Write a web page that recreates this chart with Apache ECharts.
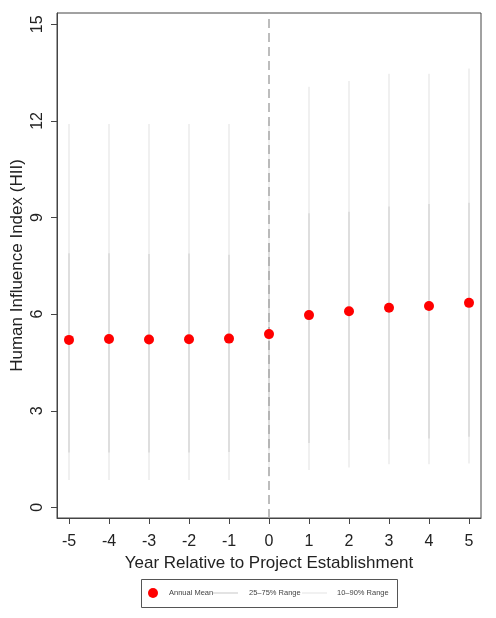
<!DOCTYPE html>
<html>
<head>
<meta charset="utf-8">
<script src="https://cdn.jsdelivr.net/npm/echarts@6/dist/echarts.min.js"></script>
<style>html,body{margin:0;padding:0;background:#fff;}#c{width:496px;height:618px;}</style>
</head>
<body>
<div id="c"></div>
<script>
const years = [-5, -4, -3, -2, -1, 0, 1, 2, 3, 4, 5];
const annualMean = [5.20, 5.23, 5.21, 5.22, 5.24, 5.38, 5.97, 6.09, 6.20, 6.25, 6.35];
const p10 = [0.85, 0.85, 0.85, 0.85, 0.85, 0.95, 1.16, 1.24, 1.34, 1.34, 1.36];
const p90 = [11.9, 11.9, 11.9, 11.9, 11.9, 12.0, 13.06, 13.24, 13.46, 13.46, 13.63];
const p25 = [1.70, 1.70, 1.70, 1.70, 1.72, 1.80, 2.00, 2.09, 2.11, 2.14, 2.19];
const p75 = [7.89, 7.89, 7.87, 7.88, 7.84, 8.20, 9.13, 9.18, 9.34, 9.42, 9.46];
const xTicks = [-5, -4, -3, -2, -1, 0, 1, 2, 3, 4, 5];
const yTicks = [0, 3, 6, 9, 12, 15];

const FONT = 'Liberation Sans, Arial, sans-serif';
const c10 = '#ededed';
const c25 = '#dadada';

function whisker(color) {
  return function (params, api) {
    const a = api.coord([api.value(0), api.value(1)]);
    const b = api.coord([api.value(0), api.value(2)]);
    return {
      type: 'line',
      shape: { x1: a[0], y1: a[1], x2: b[0], y2: b[1] },
      style: { stroke: color, lineWidth: 1.6 }
    };
  };
}

const chart = echarts.init(document.getElementById('c'), null, { renderer: 'canvas' });
chart.setOption({
  animation: false,
  backgroundColor: '#fff',
  textStyle: { fontFamily: FONT },
  grid: { left: 57, top: 13, width: 424, height: 505, show: true, borderColor: '#444', borderWidth: 1,
          containLabel: false, outerBoundsMode: 'none' },
  xAxis: {
    type: 'value', min: -5.3, max: 5.3,
    name: 'Year Relative to Project Establishment', nameLocation: 'middle', nameGap: 33,
    nameTextStyle: { fontSize: 17, color: '#222', fontFamily: FONT },
    axisLine: { show: true, onZero: false, lineStyle: { color: '#444', width: 1 } },
    axisTick: { show: true, length: 6, customValues: xTicks, lineStyle: { color: '#444' } },
    axisLabel: { customValues: xTicks, fontSize: 16, color: '#222', margin: 16, fontFamily: FONT },
    splitLine: { show: false }
  },
  yAxis: {
    type: 'value', min: -0.33, max: 15.35,
    name: 'Human Influence Index (HII)', nameLocation: 'middle', nameGap: 31, nameMoveOverlap: false,
    nameTextStyle: { fontSize: 17, color: '#222', fontFamily: FONT },
    axisLine: { show: true, onZero: false, lineStyle: { color: '#444', width: 1 } },
    axisTick: { show: true, length: 6, customValues: yTicks, lineStyle: { color: '#444' } },
    axisLabel: { customValues: yTicks, rotate: 90, fontSize: 16, color: '#222', margin: 11, fontFamily: FONT },
    splitLine: { show: false }
  },
  legend: [
    { data: [{ name: 'Annual Mean', icon: 'circle' }], left: 148, top: 588, padding: 0, itemWidth: 10, itemHeight: 10,
      selectedMode: false, textStyle: { fontSize: 7.5, color: '#444', padding: [0, 0, 0, 6], fontFamily: FONT } },
    { data: [{ name: '25\u201375% Range', icon: 'rect' }], left: 213, top: 589, padding: 0, itemWidth: 25, itemHeight: 1.5,
      selectedMode: false, textStyle: { fontSize: 7.5, color: '#444', padding: [0, 0, 0, 6], fontFamily: FONT } },
    { data: [{ name: '10\u201390% Range', icon: 'rect' }], left: 302, top: 589, padding: 0, itemWidth: 25, itemHeight: 1.5,
      selectedMode: false, textStyle: { fontSize: 7.5, color: '#444', padding: [0, 0, 0, 5], fontFamily: FONT } }
  ],
  graphic: [
    { type: 'rect', shape: { x: 141.5, y: 579.5, width: 256, height: 28 }, style: { fill: null, stroke: '#555', lineWidth: 1 }, silent: true }
  ],
  series: [
    {
      name: '10\u201390% Range', type: 'custom', z: 2,
      itemStyle: { color: c10 },
      renderItem: whisker(c10),
      encode: { x: 0, y: [1, 2] },
      data: years.map((y, i) => [y, p10[i], p90[i]])
    },
    {
      name: '25\u201375% Range', type: 'custom', z: 3,
      itemStyle: { color: c25 },
      renderItem: whisker(c25),
      encode: { x: 0, y: [1, 2] },
      data: years.map((y, i) => [y, p25[i], p75[i]])
    },
    {
      name: 'ref', type: 'line', z: 4, data: [], silent: true,
      markLine: {
        silent: true, symbol: ['none', 'none'], label: { show: false },
        lineStyle: { color: '#a8a8a8', type: [9, 5], width: 1.5 },
        data: [{ xAxis: 0 }]
      }
    },
    {
      name: 'Annual Mean', type: 'scatter', z: 6,
      symbol: 'circle', symbolSize: 10,
      itemStyle: { color: '#ff0000', opacity: 1 },
      data: years.map((y, i) => [y, annualMean[i]])
    }
  ]
});
</script>
</body>
</html>
